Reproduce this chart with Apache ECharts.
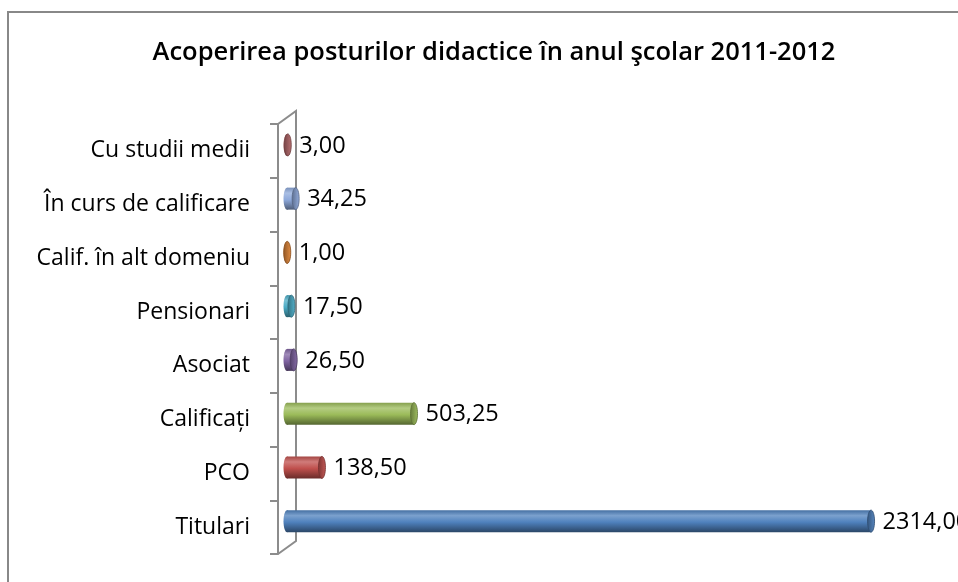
<!DOCTYPE html>
<html>
<head>
<meta charset="utf-8">
<script src="https://cdn.jsdelivr.net/npm/echarts@6/dist/echarts.min.js"></script>
<style>html,body{margin:0;padding:0;background:#fff}#c{width:958px;height:582px}</style>
</head>
<body>
<div id="c"></div>
<script>
const titleText = 'Acoperirea posturilor didactice în anul şcolar 2011-2012';
const categories = ['Titulari', 'PCO', 'Calificați', 'Asociat', 'Pensionari', 'Calif. în alt domeniu', 'În curs de calificare', 'Cu studii medii'];
const values = [2314.00, 138.50, 503.25, 26.50, 17.50, 1.00, 34.25, 3.00];
const colors = ['#4F81BD', '#C0504D', '#9BBB59', '#8064A2', '#4BACC6', '#E0873A', '#8EA9DB', '#B5696B'];

const FONT = '"Open Sans", "Noto Sans", sans-serif';

function shade(hex, f) {
  const n = parseInt(hex.slice(1), 16);
  let r = (n >> 16) & 255, g = (n >> 8) & 255, b = n & 255;
  if (f >= 0) { r += (255 - r) * f; g += (255 - g) * f; b += (255 - b) * f; }
  else { r *= 1 + f; g *= 1 + f; b *= 1 + f; }
  return 'rgb(' + Math.round(r) + ',' + Math.round(g) + ',' + Math.round(b) + ')';
}
function bodyGrad(c) {
  return new echarts.graphic.LinearGradient(0, 0, 0, 1, [
    { offset: 0, color: shade(c, -0.15) },
    { offset: 0.25, color: shade(c, 0.25) },
    { offset: 0.55, color: c },
    { offset: 1, color: shade(c, -0.45) }
  ]);
}
function capGrad(c) {
  return new echarts.graphic.LinearGradient(0, 0, 1, 0, [
    { offset: 0, color: shade(c, -0.35) },
    { offset: 1, color: shade(c, 0.05) }
  ]);
}

const data = values.map((v, i) => [v, i]);

const chart = echarts.init(document.getElementById('c'), null, { renderer: 'canvas' });
chart.setOption({
  animation: false,
  backgroundColor: '#fff',
  title: {
    text: titleText,
    left: 489, top: 35, textAlign: 'center',
    textStyle: { fontFamily: FONT, fontSize: 25.5, fontWeight: 600, color: '#000' }
  },
  grid: [
    { left: 278, top: 124, bottom: 28, width: 631 },
    { left: 287, top: 118, bottom: 34, width: 631 }
  ],
  xAxis: [
    { gridIndex: 0, type: 'value', min: 0, max: 2500, show: false },
    { gridIndex: 1, type: 'value', min: 0, max: 2500, show: false }
  ],
  yAxis: [
    {
      gridIndex: 0, type: 'category', data: categories,
      axisLine: { show: true, lineStyle: { color: '#8c8c8c', width: 2 } },
      axisTick: { show: true, length: 8, lineStyle: { color: '#8c8c8c', width: 2 } },
      axisLabel: { margin: 28, fontFamily: FONT, fontSize: 23, color: '#000' },
      splitLine: { show: false }
    },
    { gridIndex: 1, type: 'category', data: categories, show: false }
  ],
  graphic: [
    { type: 'rect', shape: { x: 8, y: 12, width: 1000, height: 700 }, style: { fill: 'none', stroke: '#888', lineWidth: 2 }, z: 0 },
    { type: 'polyline', shape: { points: [[278, 124], [296, 111], [296, 541], [278, 554]] }, style: { fill: 'none', stroke: '#8c8c8c', lineWidth: 2 }, z: 1 }
  ],
  series: [{
    type: 'custom',
    xAxisIndex: 1, yAxisIndex: 1,
    data: data,
    z: 5,
    renderItem: function (params, api) {
      const v = api.value(0), ci = api.value(1);
      const s = api.coord([0, ci]);
      const e = api.coord([v, ci]);
      const h = 22;
      const rx = 3.5;
      const cy = s[1];
      const c = colors[params.dataIndex];
      const txt = v.toFixed(2).replace('.', ',');
      return {
        type: 'group',
        children: [
          { type: 'ellipse', shape: { cx: s[0], cy: cy, rx: rx, ry: h / 2 }, style: { fill: bodyGrad(c) } },
          { type: 'rect', shape: { x: s[0], y: cy - h / 2, width: Math.max(e[0] - s[0], 0), height: h }, style: { fill: bodyGrad(c) } },
          { type: 'ellipse', shape: { cx: e[0], cy: cy, rx: rx, ry: h / 2 }, style: { fill: capGrad(c), stroke: shade(c, -0.4), lineWidth: 0.8 } },
          { type: 'text', x: e[0] + rx + 8, y: cy + 1, style: { text: txt, fill: '#000', font: '23.5px ' + FONT, verticalAlign: 'middle', align: 'left' } }
        ]
      };
    }
  }]
});
</script>
</body>
</html>
